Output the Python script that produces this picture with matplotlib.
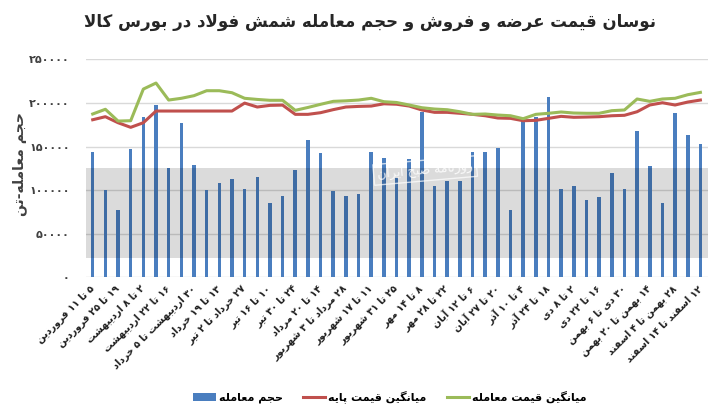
import re
import matplotlib
matplotlib.use("Agg")
import matplotlib.pyplot as plt
import numpy as np
from matplotlib.patches import Rectangle

# ---- data ----
labels = [
    "۵ تا ۱۱ فروردین", "۱۹ تا ۲۵ فروردین", "۲ تا ۸ اردیبهشت", "۱۶ تا ۲۲ اردیبهشت",
    "۳۰ اردیبهشت تا ۵ خرداد", "۱۳ تا ۱۹ خرداد", "۲۷ خرداد تا ۲ تیر", "۱۰ تا ۱۶ تیر",
    "۲۴ تا ۳۰ تیر", "۱۴ تا ۲۰ مرداد", "۲۸ مرداد تا ۳ شهریور", "۱۱ تا ۱۷ شهریور",
    "۲۵ تا ۳۱ شهریور", "۸ تا ۱۴ مهر", "۲۲ تا ۲۸ مهر", "۶ تا ۱۲ آبان",
    "۲۰ تا ۲۷ آبان", "۴ تا ۱۰ آذر", "۱۸ تا ۲۴ آذر", "۲ تا ۸ دی",
    "۱۶ تا ۲۲ دی", "۳۰ دی تا ۶ بهمن", "۱۴ بهمن تا ۲۰ بهمن", "۲۸ بهمن تا ۴ اسفند",
    "۱۲ اسفند تا ۱۴ اسفند",
]

volume = [144000, 100000, 77500, 147000, 184000, 197500, 125500, 177500, 129000, 100000,
          108000, 113000, 101000, 115000, 85000, 93000, 123000, 157500, 143000, 98500,
          93000, 95500, 144000, 136500, 114000, 135500, 190000, 104500, 110500, 110500,
          143500, 144000, 148000, 77000, 179500, 184000, 206500, 101500, 104500, 88500,
          92000, 120000, 101500, 167500, 128000, 85000, 189000, 163500, 153000]

base_price = [180700, 184200, 177300, 172000, 177300, 190700, 190700, 190700, 190700, 190700,
              190700, 190700, 199800, 195300, 197200, 197500, 186900, 186900, 188800, 192300,
              195300, 196000, 196400, 199000, 198500, 196400, 191900, 189200, 189200, 188100,
              186900, 185300, 182700, 182300, 179600, 180000, 182300, 184600, 183500, 183800,
              184200, 185300, 185800, 189900, 197600, 200200, 197600, 201000, 203300]

trade_price = [187300, 192700, 179200, 179600, 215900, 222800, 203300, 205300, 208300, 214000,
               214000, 211700, 205300, 204000, 203000, 203000, 191500, 194800, 198400, 201800,
               202400, 203300, 205300, 201400, 200500, 197600, 194500, 193000, 192200, 189900,
               186900, 187300, 186100, 185300, 181900, 186900, 188100, 189600, 188400, 188100,
               188100, 191100, 191900, 204500, 201800, 204500, 205300, 209400, 212100]

yticks = [0, 50000, 100000, 150000, 200000, 250000]

# ---- minimal persian shaping (matplotlib does no arabic shaping / bidi) ----
FORMS = {
    'ا': ('\uFE8D', '\uFE8E', None, None), 'آ': ('\uFE81', '\uFE82', None, None),
    'ب': ('\uFE8F', '\uFE90', '\uFE91', '\uFE92'), 'پ': ('\uFB56', '\uFB57', '\uFB58', '\uFB59'),
    'ت': ('\uFE95', '\uFE96', '\uFE97', '\uFE98'), 'ج': ('\uFE9D', '\uFE9E', '\uFE9F', '\uFEA0'),
    'ح': ('\uFEA1', '\uFEA2', '\uFEA3', '\uFEA4'), 'خ': ('\uFEA5', '\uFEA6', '\uFEA7', '\uFEA8'),
    'د': ('\uFEA9', '\uFEAA', None, None), 'ذ': ('\uFEAB', '\uFEAC', None, None),
    'ر': ('\uFEAD', '\uFEAE', None, None), 'ز': ('\uFEAF', '\uFEB0', None, None),
    'س': ('\uFEB1', '\uFEB2', '\uFEB3', '\uFEB4'), 'ش': ('\uFEB5', '\uFEB6', '\uFEB7', '\uFEB8'),
    'ص': ('\uFEB9', '\uFEBA', '\uFEBB', '\uFEBC'), 'ض': ('\uFEBD', '\uFEBE', '\uFEBF', '\uFEC0'),
    'ع': ('\uFEC9', '\uFECA', '\uFECB', '\uFECC'), 'ف': ('\uFED1', '\uFED2', '\uFED3', '\uFED4'),
    'ق': ('\uFED5', '\uFED6', '\uFED7', '\uFED8'), 'ک': ('\uFB8E', '\uFB8F', '\uFB90', '\uFB91'),
    'گ': ('\uFB92', '\uFB93', '\uFB94', '\uFB95'), 'ل': ('\uFEDD', '\uFEDE', '\uFEDF', '\uFEE0'),
    'م': ('\uFEE1', '\uFEE2', '\uFEE3', '\uFEE4'), 'ن': ('\uFEE5', '\uFEE6', '\uFEE7', '\uFEE8'),
    'ه': ('\uFEE9', '\uFEEA', '\uFEEB', '\uFEEC'), 'و': ('\uFEED', '\uFEEE', None, None),
    'ی': ('\uFBFC', '\uFBFD', '\uFBFE', '\uFBFF'),
}
LAM_ALEF = {'ا': ('\uFEFB', '\uFEFC'), 'آ': ('\uFEF5', '\uFEF6')}


def joins_next(c):
    return c in FORMS and FORMS[c][2] is not None


def shape(text):
    out = []
    i, n = 0, len(text)
    while i < n:
        c = text[i]
        if c not in FORMS:
            out.append(c)
            i += 1
            continue
        conn_prev = i > 0 and joins_next(text[i - 1])
        if c == 'ل' and i + 1 < n and text[i + 1] in LAM_ALEF:
            lig = LAM_ALEF[text[i + 1]]
            out.append(lig[1] if conn_prev else lig[0])
            i += 2
            continue
        conn_next = joins_next(c) and i + 1 < n and text[i + 1] in FORMS
        iso, fin, ini, med = FORMS[c]
        if conn_prev and conn_next:
            out.append(med)
        elif conn_prev:
            out.append(fin)
        elif conn_next:
            out.append(ini)
        else:
            out.append(iso)
        i += 1
    return ''.join(out)


def fa(text):
    s = shape(text)[::-1]
    return re.sub(r'[۰-۹0-9]+', lambda m: m.group(0)[::-1], s)


def fa_num(v):
    return str(int(v)).translate(str.maketrans('0123456789', '۰۱۲۳۴۵۶۷۸۹'))


plt.rcParams['font.family'] = ['DejaVu Sans']

fig = plt.figure(figsize=(7.08, 4.08), dpi=100)
ax = fig.add_axes([0.122, 0.3203, 0.878, 0.5343])

x = np.arange(len(volume))
blue = '#4a7ebf'
red = '#c0504d'
green = '#9bbb59'

b1 = ax.bar(x, volume, width=0.28, color=blue, zorder=2)
l1, = ax.plot(x, base_price, color=red, lw=2.2, zorder=3)
l2, = ax.plot(x, trade_price, color=green, lw=2.2, zorder=3)

ax.set_xlim(-0.5, 48.6)
ax.set_ylim(0, 250000)
ax.set_yticks(yticks)
ax.set_yticklabels([fa_num(v) for v in yticks], fontsize=8, fontweight='bold', color='#404040')
ax.yaxis.grid(True, color='#d9d9d9', lw=1, zorder=0)
ax.set_axisbelow(True)
ax.tick_params(axis='both', length=0)
ax.tick_params(axis='y', pad=12)
for s in ax.spines.values():
    s.set_visible(False)

ax.set_xticks(x[::2])
ax.set_xticklabels([fa(l) for l in labels], rotation=45, ha='right', va='center',
                   rotation_mode='anchor', fontsize=7, fontweight='bold', color='#202020')
ax.tick_params(axis='x', pad=7)

# watermark band of the source picture
ax.add_patch(Rectangle((0, 0.09), 1.0, 0.41, transform=ax.transAxes, facecolor='black',
                       alpha=0.14, edgecolor='none', zorder=5, clip_on=False))
ax.text(0.545, 0.49, fa('روزنامه صبح ایران'), transform=ax.transAxes, rotation=5,
        fontsize=9, color='white', alpha=0.85, ha='center', va='center', zorder=6,
        bbox=dict(boxstyle='square,pad=0.3', facecolor='none', edgecolor='white', alpha=0.7))

fig.text(0.523, 0.946, fa('نوسان قیمت عرضه و فروش و حجم معامله شمش فولاد در بورس کالا'),
         ha='center', va='center', fontsize=12, fontweight='bold', color='#262626')
fig.text(20 / 708, 1 - 164 / 408, fa('حجم معامله-تن'), rotation=90, ha='center', va='center',
         fontsize=10, fontweight='bold', color='#404040')

fig.legend([b1, l1, l2],
           [fa('حجم معامله'), fa('میانگین قیمت پایه'), fa('میانگین قیمت معامله')],
           loc='center', bbox_to_anchor=(390 / 708, 0.027), ncol=3, frameon=False,
           prop={'size': 8, 'weight': 'bold'}, handlelength=2.0, columnspacing=1.8,
           handletextpad=0.3)

fig.savefig('out.png', dpi=100)
